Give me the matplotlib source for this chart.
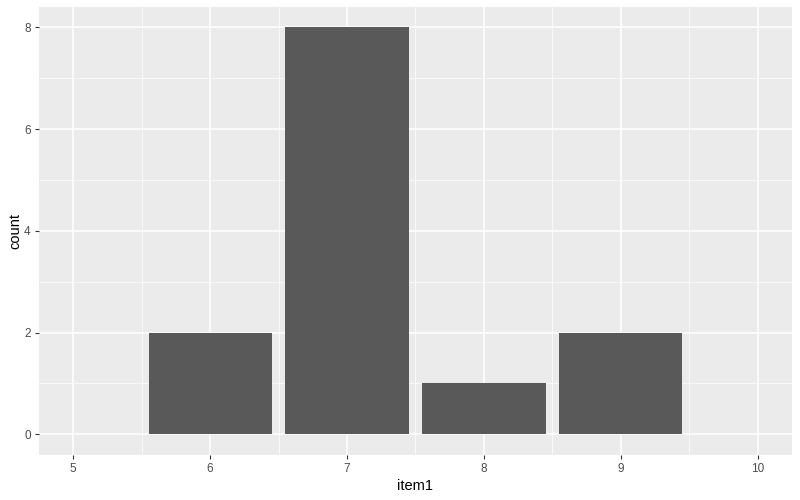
import matplotlib
matplotlib.use("Agg")
import matplotlib.pyplot as plt

plt.rcParams['font.family'] = ['Liberation Sans', 'DejaVu Sans']

# data
item1 = [6, 7, 8, 9]
count = [2, 8, 1, 2]
x_ticks = [5, 6, 7, 8, 9, 10]
y_ticks = [0, 2, 4, 6, 8]

fig = plt.figure(figsize=(8, 5), dpi=100)
ax = fig.add_axes([0.04875, 0.0906, 0.94125, 0.8954])
ax.set_facecolor("#EBEBEB")

ax.bar(item1, count, width=0.9, color="#595959", zorder=3)

ax.set_xlim(4.75, 10.25)
ax.set_ylim(-0.4, 8.4)

ax.set_xticks(x_ticks)
ax.set_yticks(y_ticks)
ax.set_xticks([x + 0.5 for x in x_ticks[:-1]], minor=True)
ax.set_yticks([y + 1 for y in y_ticks[:-1]], minor=True)

ax.grid(which="major", color="white", linewidth=1.1, zorder=1)
ax.grid(which="minor", color="white", linewidth=0.5, zorder=1)

for s in ax.spines.values():
    s.set_visible(False)

ax.tick_params(which="major", length=3, color="#333333", labelsize=8.5, labelcolor="#4D4D4D", pad=3)
ax.tick_params(which="minor", length=0)

ax.set_xlabel("item1", fontsize=10.5, labelpad=3)
ax.set_ylabel("count", fontsize=10.5, labelpad=1)

fig.savefig("out.png", dpi=100)
